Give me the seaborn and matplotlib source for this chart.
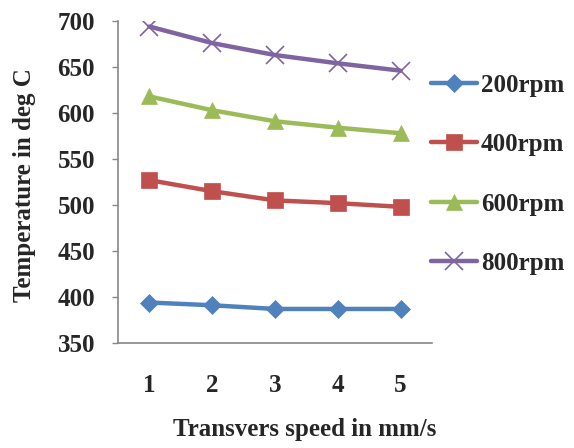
import matplotlib
matplotlib.use("Agg")
import matplotlib.pyplot as plt
import seaborn as sns
import pandas as pd

# Transverse speed categories and peak temperature per tool rotation speed
speeds = [1, 2, 3, 4, 5]
temp_200rpm = [394, 391, 387, 387, 387]
temp_400rpm = [527, 515, 505, 502, 498]
temp_600rpm = [618, 603, 591, 584, 578]
temp_800rpm = [694, 676, 663, 654, 646]
series_names = ["200rpm", "400rpm", "600rpm", "800rpm"]
y_ticks = [350, 400, 450, 500, 550, 600, 650, 700]

sns.set_theme(style="white")
plt.rcParams["font.family"] = ["Liberation Serif", "DejaVu Serif"]
plt.rcParams["font.weight"] = "bold"

df = pd.DataFrame({
    "speed": speeds * 4,
    "temp": temp_200rpm + temp_400rpm + temp_600rpm + temp_800rpm,
    "series": [n for n in series_names for _ in speeds],
})

colors = ["#4F81BD", "#C0504D", "#9BBB59", "#8064A2"]
markers = ["D", "s", "^", "x"]
msizes = [9, 12, 11, 13]
FS = 18

fig = plt.figure(figsize=(5.74, 4.48), dpi=100)
ax = fig.add_axes([118 / 574, 1 - 343 / 448, (432 - 118) / 574, (343 - 21) / 448])

for name, c, m, ms in zip(series_names, colors, markers, msizes):
    sub = df[df["series"] == name]
    sns.lineplot(data=sub, x="speed", y="temp", ax=ax, color=c, marker=m,
                 markersize=ms, linewidth=3.2, markeredgecolor=c,
                 markeredgewidth=1.2 if m == "x" else 0.5, label=name,
                 legend=False)

ax.set_xlim(0.5, 5.5)
ax.set_ylim(350, 700)
ax.set_xticks(speeds)
ax.set_xticklabels([str(s) for s in speeds])
ax.set_yticks(y_ticks)
ax.tick_params(axis="y", direction="out", length=4.5, width=1, color="#888888",
               labelsize=FS, pad=12, left=True)
ax.tick_params(axis="x", length=0, labelsize=FS, pad=22)
for lab in ax.get_xticklabels() + ax.get_yticklabels():
    lab.set_fontweight("bold")

for side in ["top", "right"]:
    ax.spines[side].set_visible(False)
for side in ["left", "bottom"]:
    ax.spines[side].set_color("#888888")
    ax.spines[side].set_linewidth(1.2)

ax.set_xlabel("")
ax.set_ylabel("")
fig.text(24 / 574, 1 - 185 / 448, "Temperature in deg C", rotation=90,
         ha="center", va="center", fontsize=FS, fontweight="bold")
fig.text(305 / 574, 1 - 429 / 448, "Transvers speed in mm/s", ha="center",
         va="center", fontsize=FS, fontweight="bold")

handles, labels = ax.get_legend_handles_labels()
leg = fig.legend(handles, labels, loc="upper left",
                 bbox_to_anchor=(431 / 574, 1 - 74 / 448),
                 frameon=False, fontsize=FS, handlelength=1.85,
                 handletextpad=0.15, labelspacing=1.45, borderaxespad=0,
                 borderpad=0)
for t in leg.get_texts():
    t.set_fontweight("bold")

fig.savefig("out.png", dpi=100)
